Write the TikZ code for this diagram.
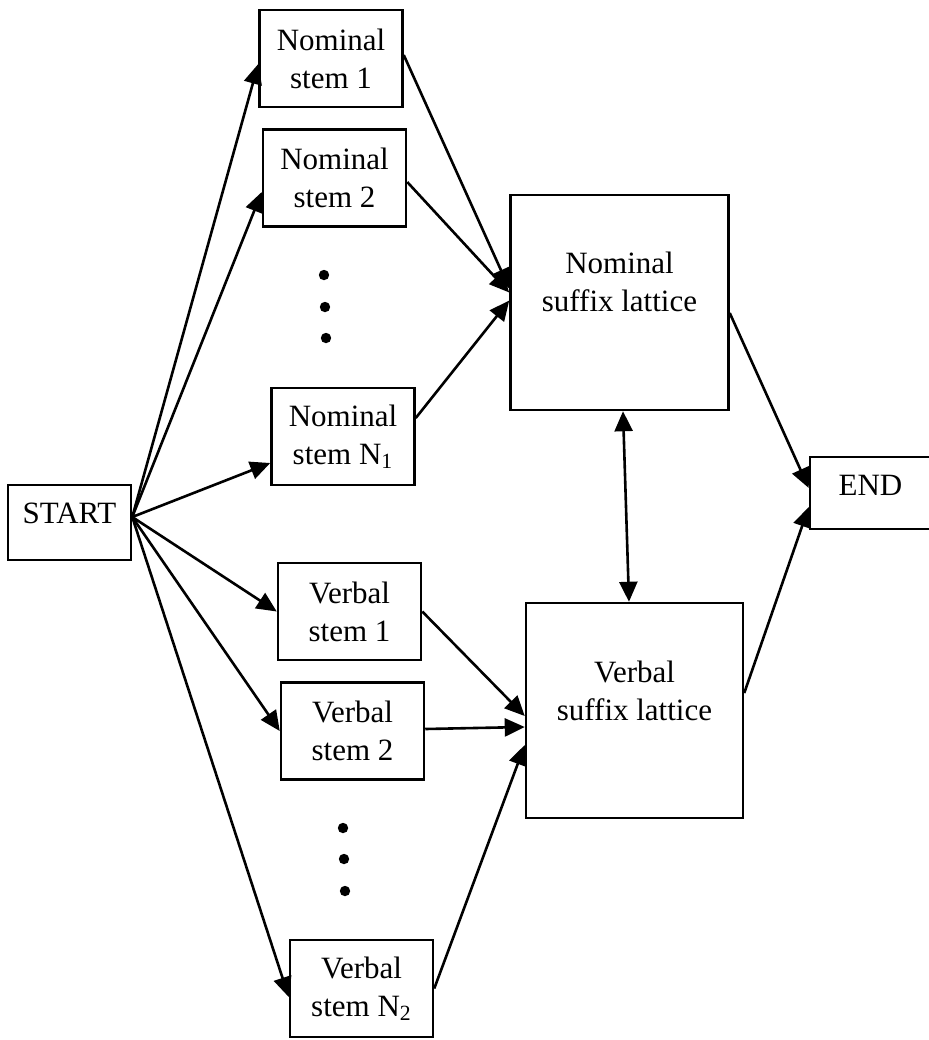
\documentclass[tikz,border=0pt]{standalone}
\usepackage{fontspec}
\setmainfont{Liberation Serif}
\usetikzlibrary{arrows.meta}
\begin{document}
\begin{tikzpicture}[x=0.5pt,y=-0.5pt,
  lw/.style={line width=1.25pt},
  box/.style={draw, lw, align=center, inner sep=0pt, font=\fontsize{15.5pt}{19pt}\selectfont},
  stembox/.style={box, minimum width=71.5pt, minimum height=48.5pt},
  latbox/.style={draw, lw, minimum width=109pt, minimum height=107.5pt, inner sep=0pt},
  txt/.style={align=center, inner sep=0pt, font=\fontsize{15.5pt}{19pt}\selectfont},
  con/.style={line width=1.3pt, -{Triangle[length=10pt,width=9pt]}},
  dcon/.style={line width=1.3pt, {Triangle[length=10pt,width=9pt]}-{Triangle[length=10pt,width=9pt]}}]
\useasboundingbox (0,0) rectangle (928,1040);

% stems
\node[stembox] (ns1)  at (331,58.5)   {Nominal\\stem 1};
\node[stembox] (ns2)  at (334.5,178)  {Nominal\\stem 2};
\node[stembox] (nsn)  at (343,436.5)  {Nominal\\stem N\textsubscript{1}};
\node[stembox] (vs1)  at (349.5,611.5){Verbal\\stem 1};
\node[stembox] (vs2)  at (352.5,731)  {Verbal\\stem 2};
\node[stembox] (vsn)  at (361.5,988.5){Verbal\\stem N\textsubscript{2}};

% start / end
\node[box, minimum width=61.5pt, minimum height=37.5pt, text depth=9pt] (start) at (69.5,522.5) {START};
\node[box, minimum width=60.5pt, minimum height=36pt, text depth=8pt] (end) at (870.5,493) {END};

% lattices
\node[latbox] (nsl) at (619.5,302.5) {};
\node[txt] (nslt) at ([yshift=10.5pt]nsl.center) {Nominal\\suffix lattice};
\node[latbox, minimum width=108.5pt] (vsl) at (634.5,710.5) {};
\node[txt] (vslt) at ([yshift=10pt]vsl.center) {Verbal\\suffix lattice};

% dots
\fill (324,275) circle[radius=2.6pt];
\fill (325,307) circle[radius=2.6pt];
\fill (326,338) circle[radius=2.6pt];
\fill (343,828) circle[radius=2.6pt];
\fill (344,859) circle[radius=2.6pt];
\fill (345,891) circle[radius=2.6pt];

% from START
\coordinate (so) at ([yshift=2.75pt]start.east);
\draw[con] (so) -- ([yshift=-2.75pt]ns1.west);
\draw[con] (so) -- ([yshift=-7pt]ns2.west);
\draw[con] (so) -- ([yshift=-13.25pt]nsn.west);
\draw[con] (so) -- (vs1.west);
\draw[con] (so) -- (vs2.west);
\draw[con] (so) -- ([yshift=-4.25pt]vsn.west);

% into nominal lattice
\draw[con] ([yshift=1.75pt]ns1.east) -- ([yshift=7pt]nsl.west);
\draw[con] ([yshift=-2pt]ns2.east) -- ([yshift=5pt]nsl.west);
\draw[con] ([yshift=9.25pt]nsn.east) -- ([yshift=1pt]nsl.west);

% into verbal lattice
\draw[con] (vs1.east) -- ([yshift=-2.75pt]vsl.west);
\draw[con] ([yshift=1pt]vs2.east) -- ([yshift=-8.25pt]vsl.west);
\draw[con] (vsn.east) -- ([yshift=-17.25pt]vsl.west);

% to END
\draw[con] ([yshift=-5.25pt]nsl.east) -- ([yshift=2.5pt]end.west);
\draw[con] ([yshift=8.75pt]vsl.east) -- ([yshift=-7pt]end.west);

% between lattices
\draw[dcon] ([xshift=1.75pt]nsl.south) -- ([xshift=-2.75pt]vsl.north);
\end{tikzpicture}
\end{document}
